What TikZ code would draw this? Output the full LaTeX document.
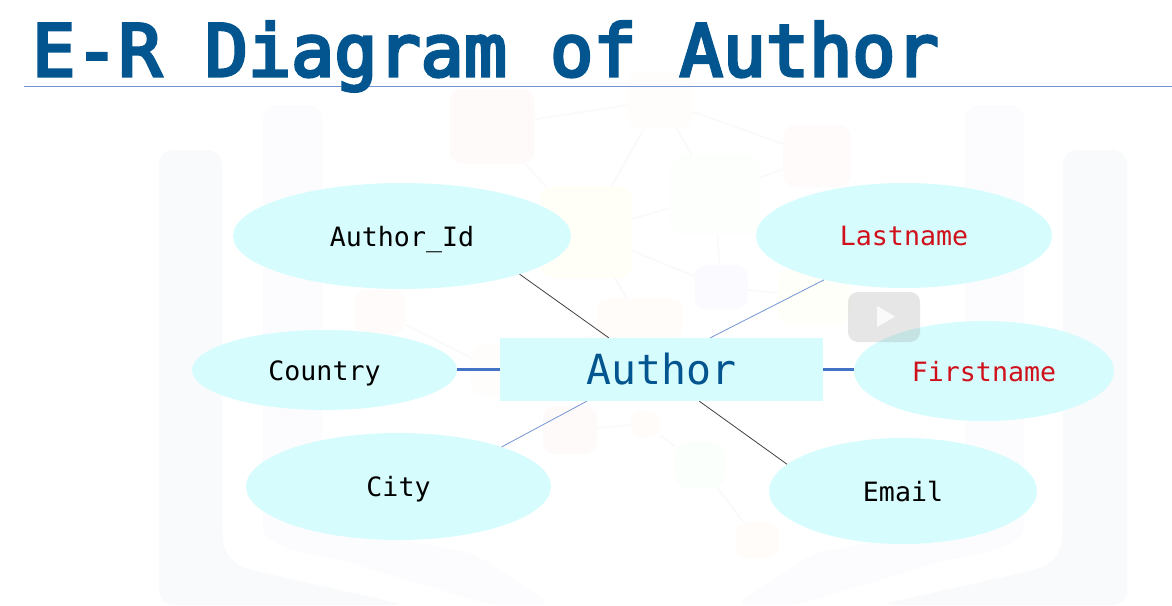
\documentclass[tikz,border=0pt]{standalone}
\usepackage{fontspec}
\setmainfont{DejaVu Sans Mono}
\newfontfamily\titlefont[FakeBold=4.5]{DejaVu Sans Mono}
\usetikzlibrary{shapes.geometric}
\definecolor{titleblue}{HTML}{03558F}
\definecolor{linkblue}{HTML}{4472C4}
\definecolor{aqua}{HTML}{D7FCFD}
\definecolor{keyred}{HTML}{D0101A}
\definecolor{pillar}{HTML}{F9FAFB}
\definecolor{pillarin}{HTML}{FCFCFE}
\tikzset{
  attr/.style={ellipse,fill=aqua,inner sep=0pt,text height=20pt,text depth=0pt,
    font=\fontsize{26.6}{30}\selectfont},
  entity/.style={rectangle,fill=aqua,inner sep=0pt,minimum width=323pt,minimum height=63pt,
    text height=29pt,text depth=0pt,text=titleblue,font=\fontsize{41.5}{46}\selectfont},
  web/.style={rectangle,rounded corners=12pt,inner sep=0pt},
  weblink/.style={line width=2pt,color=black!2},
  thinblack/.style={line width=0.8pt,color=black!75},
  thinblue/.style={line width=0.8pt,color=linkblue!75},
  thickblue/.style={line width=3pt,color=linkblue},
}
\begin{document}
\begin{tikzpicture}[x=1pt,y=-1pt]
  \useasboundingbox (0,0) rectangle (1172,605);
  % Book
  \fill[pillar,rounded corners=14pt] (159,605) -- (159,150) -- (222,150) -- (222,525)
    .. controls (224,555) and (235,565) .. (260,572) -- (407,605) -- cycle;
  \fill[pillar,rounded corners=14pt] (1127,605) -- (1127,150) -- (1063,150) -- (1063,525)
    .. controls (1061,555) and (1050,565) .. (1025,572) -- (878,605) -- cycle;
  \fill[pillarin,rounded corners=14pt] (263,105) -- (322,105) -- (322,525) -- (473,553)
    -- (553,605) -- (490,605) -- (340,560) .. controls (285,550) and (263,540) .. (263,515) -- cycle;
  \fill[pillarin,rounded corners=14pt] (1024,105) -- (965,105) -- (965,525) -- (814,553)
    -- (734,605) -- (797,605) -- (947,560) .. controls (1002,550) and (1024,540) .. (1024,515) -- cycle;
  % Web
  \node[web,fill=red!2,minimum width=85pt,minimum height=75pt] (wred) at (492,126) {};
  \node[web,fill=orange!1.5,minimum width=65pt,minimum height=56pt] (wtop) at (660,100) {};
  \node[web,fill=red!1.5,minimum width=68pt,minimum height=62pt] (wright) at (817,156) {};
  \node[web,fill=green!.8,minimum width=90pt,minimum height=80pt] (wmid) at (715,195) {};
  \node[web,fill=yellow!3,minimum width=92pt,minimum height=91pt] (wgreen) at (586,232) {};
  \node[web,fill=blue!1.5,minimum width=53pt,minimum height=45pt] (wblue) at (721,287) {};
  \node[web,fill=orange!2,minimum width=86pt,minimum height=42pt] (wpeach) at (640,319) {};
  \node[web,fill=yellow!2,minimum width=72pt,minimum height=55pt] (wside) at (814,297) {};
  \node[web,fill=red!1.5,minimum width=50pt,minimum height=45pt] (wleft) at (380,312) {};
  \node[web,fill=orange!1.5,minimum width=50pt,minimum height=50pt] (wlow) at (495,370) {};
  \node[web,fill=red!2,minimum width=54pt,minimum height=48pt] (wpink) at (570,430) {};
  \node[web,fill=orange!2,minimum width=30pt,minimum height=27pt] (wsmall) at (645,424) {};
  \node[web,fill=green!1.5,minimum width=50pt,minimum height=46pt] (wsage) at (700,465) {};
  \node[web,fill=orange!2,minimum width=43pt,minimum height=36pt] (wbase) at (757,540) {};
  \draw[weblink] (wred) -- (wtop);
  \draw[weblink] (wtop) -- (wright);
  \draw[weblink] (wtop) -- (wgreen);
  \draw[weblink] (wtop) -- (wmid);
  \draw[weblink] (wmid) -- (wright);
  \draw[weblink] (wmid) -- (wgreen);
  \draw[weblink] (wred) -- (wgreen);
  \draw[weblink] (wgreen) -- (wblue);
  \draw[weblink] (wmid) -- (wblue);
  \draw[weblink] (wgreen) -- (wpeach);
  \draw[weblink] (wblue) -- (wside);
  \draw[weblink] (wleft) -- (wlow);
  \draw[weblink] (wlow) -- (wpeach);
  \draw[weblink] (wpink) -- (wsmall);
  \draw[weblink] (wsmall) -- (wsage);
  \draw[weblink] (wsage) -- (wbase);
  % Title
  \coordinate (rulea) at (24,86);
  \coordinate (ruleb) at (1172,86);
  \draw[thinblue] (rulea) -- (ruleb);
  \node[anchor=base west,inner sep=0pt,text=titleblue,font=\fontsize{71.7}{80}\selectfont\titlefont] (title) at (32,76) {E-R Diagram of Author};
  % Nodes
  \node[entity] (author) at (661.5,369.5) {Author};
  \node[attr,minimum width=338pt,minimum height=106pt] (authorid) at (402,236) {Author\_Id};
  \node[attr,minimum width=296pt,minimum height=105pt,text=keyred] (lastname) at (904,235.5) {Lastname};
  \node[attr,minimum width=265pt,minimum height=80pt] (country) at (324.5,370) {Country};
  \node[attr,minimum width=260pt,minimum height=100pt,text=keyred] (firstname) at (984,371) {Firstname};
  \node[attr,minimum width=305pt,minimum height=107pt] (city) at (398.5,486.5) {City};
  \node[attr,minimum width=268pt,minimum height=106pt] (email) at (903,491) {Email};
  % Ways
  \draw[thinblack] (authorid.-18.4) -- (author.149);
  \draw[thinblue] (lastname.209) -- (author.33.5);
  \draw[thinblue] (city.21.8) -- (author.203.5);
  \draw[thinblack] (email.167.5) -- (author.-40.8);
  \draw[thickblue] (author.west -| country.east) -- (author.west);
  \draw[thickblue] (author.east) -- (author.east -| firstname.west);
  % Play button
  \node[rectangle,rounded corners=10pt,fill=black!45,opacity=0.22,minimum width=72pt,minimum height=50pt,inner sep=0pt] (play) at (884,317) {};
  \fill[white,opacity=0.8] (877,306) -- (895,316.5) -- (877,327) -- cycle;
\end{tikzpicture}
\end{document}
